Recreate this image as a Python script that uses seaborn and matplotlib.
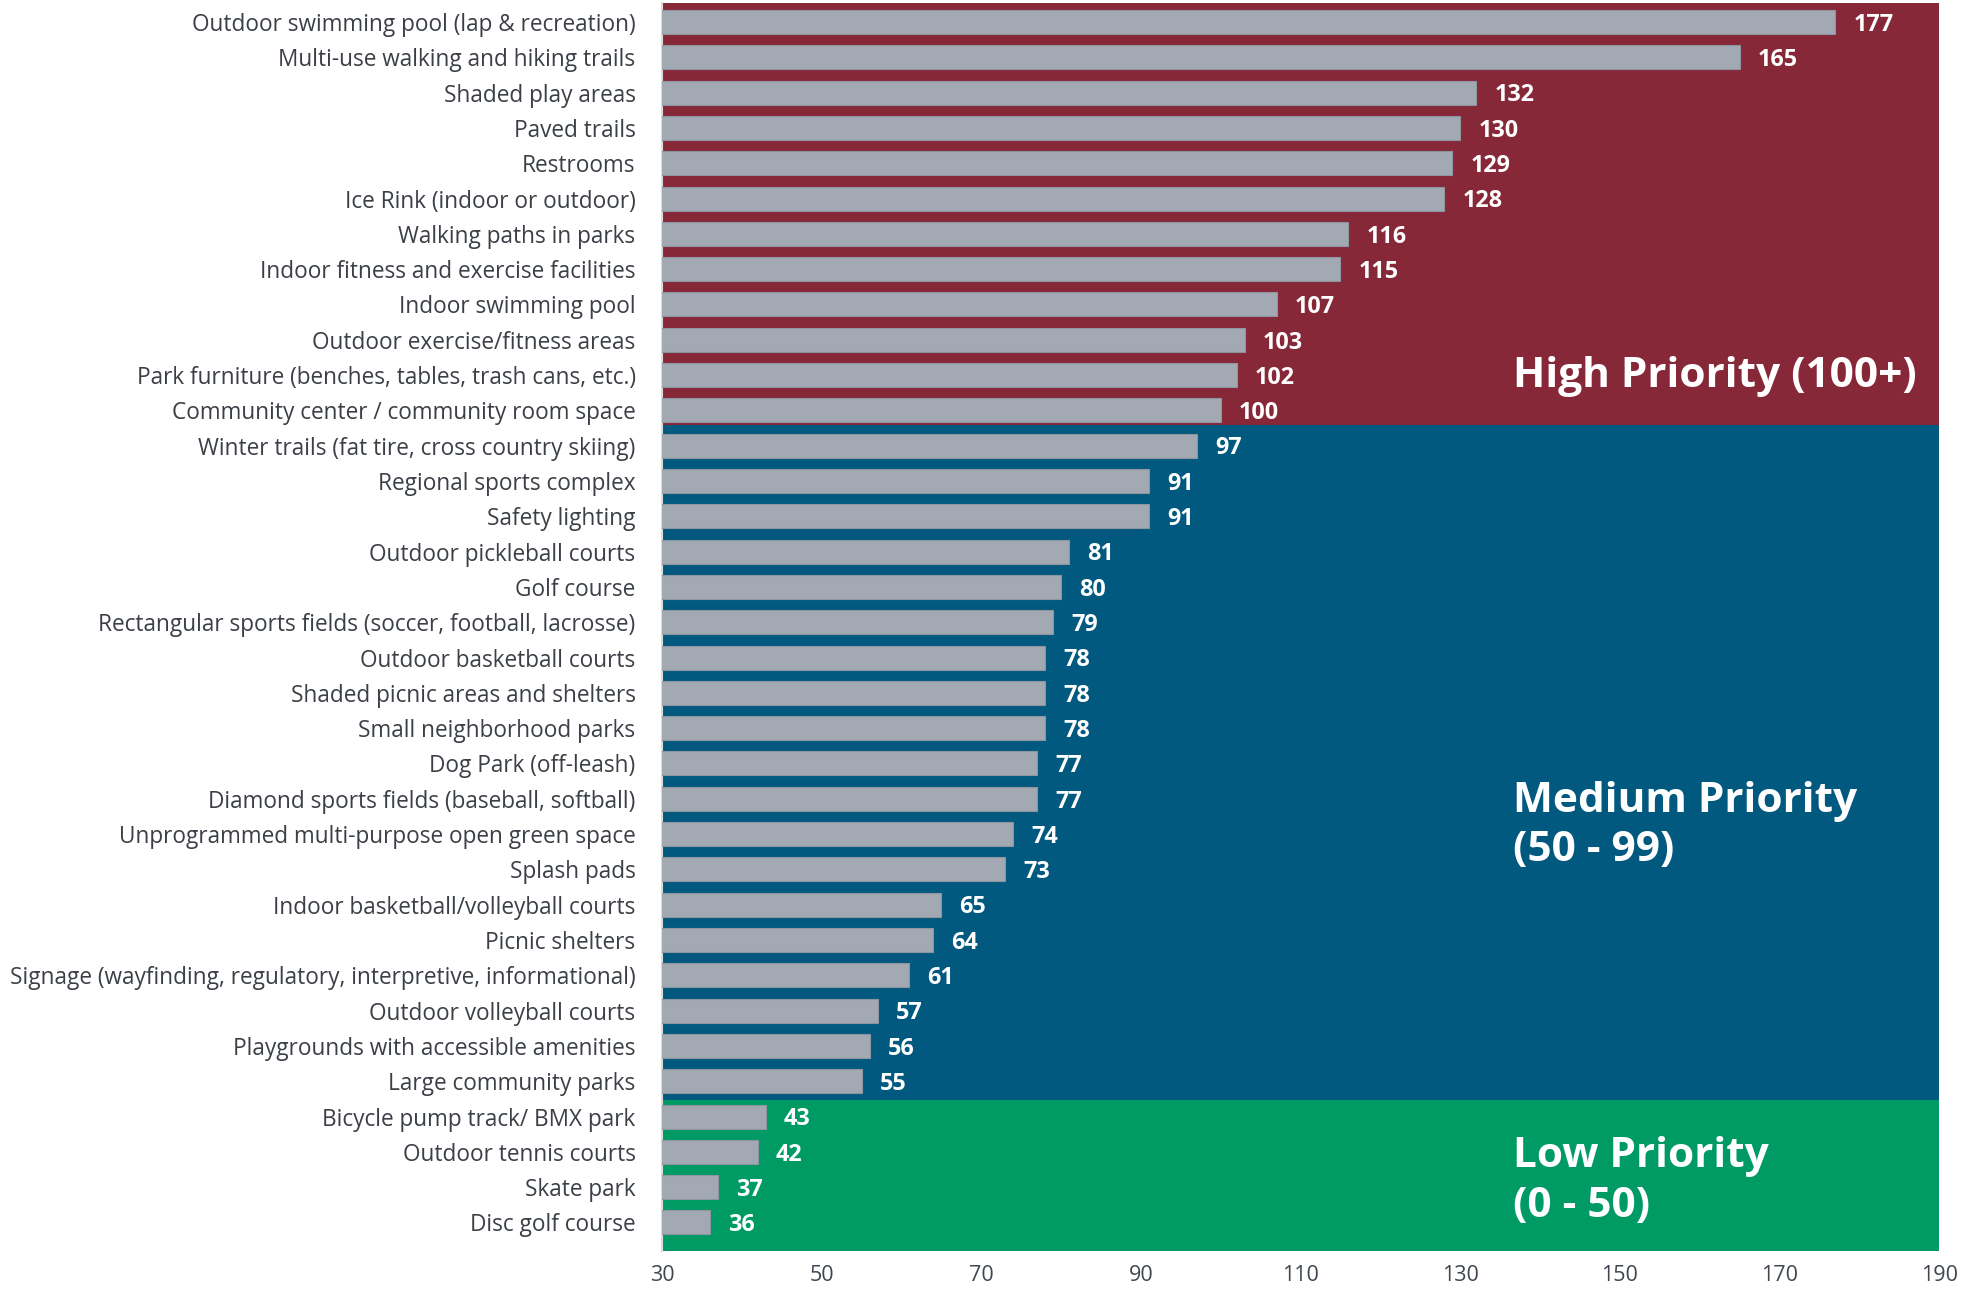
import matplotlib
matplotlib.use("Agg")
import matplotlib.pyplot as plt
import pandas as pd
import seaborn as sns

amenities = [
    "Outdoor swimming pool (lap & recreation)",
    "Multi-use walking and hiking trails",
    "Shaded play areas",
    "Paved trails",
    "Restrooms",
    "Ice Rink (indoor or outdoor)",
    "Walking paths in parks",
    "Indoor fitness and exercise facilities",
    "Indoor swimming pool",
    "Outdoor exercise/fitness areas",
    "Park furniture (benches, tables, trash cans, etc.)",
    "Community center / community room space",
    "Winter trails (fat tire, cross country skiing)",
    "Regional sports complex",
    "Safety lighting",
    "Outdoor pickleball courts",
    "Golf course",
    "Rectangular sports fields (soccer, football, lacrosse)",
    "Outdoor basketball courts",
    "Shaded picnic areas and shelters",
    "Small neighborhood parks",
    "Dog Park (off-leash)",
    "Diamond sports fields (baseball, softball)",
    "Unprogrammed multi-purpose open green space",
    "Splash pads",
    "Indoor basketball/volleyball courts",
    "Picnic shelters",
    "Signage (wayfinding, regulatory, interpretive, informational)",
    "Outdoor volleyball courts",
    "Playgrounds with accessible amenities",
    "Large community parks",
    "Bicycle pump track/ BMX park",
    "Outdoor tennis courts",
    "Skate park",
    "Disc golf course",
]
scores = [177, 165, 132, 130, 129, 128, 116, 115, 107, 103, 102, 100,
          97, 91, 91, 81, 80, 79, 78, 78, 78, 77, 77, 74, 73, 65, 64, 61,
          57, 56, 55, 43, 42, 37, 36]

x_ticks = [30, 50, 70, 90, 110, 130, 150, 170, 190]

tier_labels = ["High Priority (100+)", "Medium Priority\n(50 - 99)", "Low Priority\n(0 - 50)"]
tier_colors = ["#862838", "#01597f", "#009b64"]

df = pd.DataFrame({"amenity": amenities, "score": scores})

sns.set_theme(style="white")
plt.rcParams["font.family"] = ["Open Sans", "DejaVu Sans"]

fig = plt.figure(figsize=(19.72, 12.96), dpi=100)
ax = fig.add_axes([0.3357, 0.0347, 0.6476, 0.9630])

sns.barplot(data=df, x="score", y="amenity", orient="h", color="#a2a9b3",
            saturation=1, width=0.68, edgecolor="#8e95a0", linewidth=0.8,
            ax=ax, zorder=3)

ax.set_xlim(30, 190)
ax.set_ylim(34.81, -0.538)

# priority tier backgrounds
ax.axhspan(-0.538, 11.41, color=tier_colors[0], zorder=0, lw=0)
ax.axhspan(11.41, 30.53, color=tier_colors[1], zorder=0, lw=0)
ax.axhspan(30.53, 34.81, color=tier_colors[2], zorder=0, lw=0)

# tier captions (baseline anchors the last line)
ax.text(136.6, 10.34, tier_labels[0], color="white", fontsize=30.5,
        fontweight="bold", va="baseline", ha="left", zorder=4)
ax.text(136.6, 23.76, tier_labels[1], color="white", fontsize=30.5,
        fontweight="bold", va="baseline", ha="left", linespacing=1.27, zorder=4)
ax.text(136.6, 33.84, tier_labels[2], color="white", fontsize=30.5,
        fontweight="bold", va="baseline", ha="left", linespacing=1.27, zorder=4)

value_texts = ax.bar_label(ax.containers[0], labels=[str(v) for v in scores],
                           padding=13, color="white", fontsize=16.8,
                           fontweight="bold", zorder=5)
for t in value_texts:
    t.xyann = (13, -2)

ax.set_xticks(x_ticks)
ax.set_xticklabels([str(t) for t in x_ticks])
ax.set_xlabel("")
ax.set_ylabel("")
ax.tick_params(axis="y", length=0, pad=19, labelsize=16.3, labelcolor="#3b3f46")
ax.tick_params(axis="x", length=0, pad=10, labelsize=15.5, labelcolor="#404650")

for side in ["top", "right", "bottom"]:
    ax.spines[side].set_visible(False)
ax.spines["left"].set_color("#dcdcdc")
ax.spines["left"].set_linewidth(1.5)

fig.savefig("out.png", dpi=100)
